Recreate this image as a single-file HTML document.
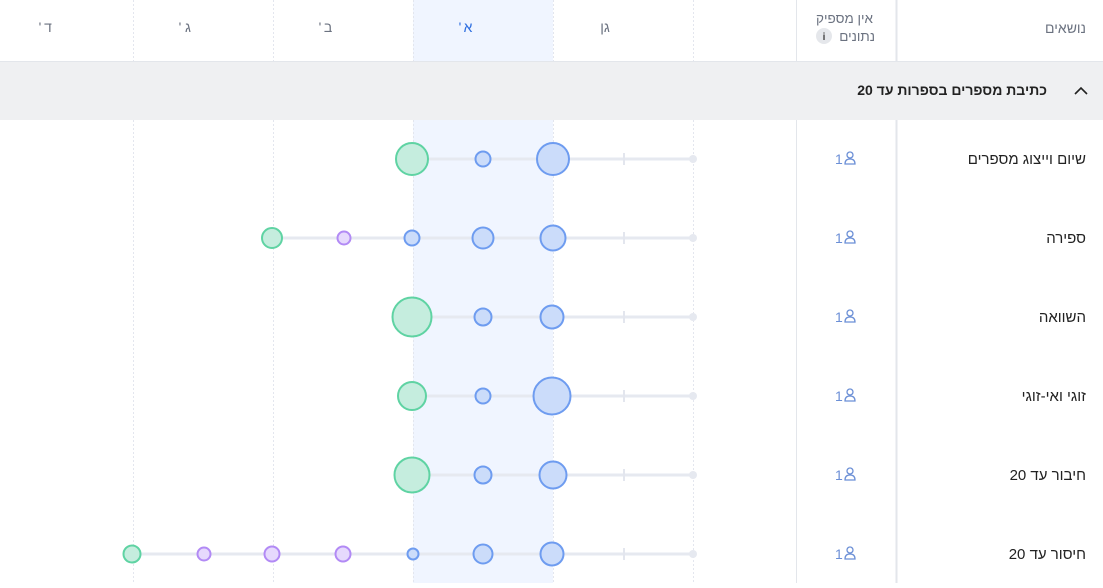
<!DOCTYPE html>
<html><head><meta charset="utf-8"><style>
body{margin:0;width:1103px;height:583px;overflow:hidden;background:#fff;font-family:"Liberation Sans","Noto Sans CJK SC",sans-serif}
</style></head><body>
<svg width="1103" height="583" xmlns="http://www.w3.org/2000/svg" font-family="Liberation Sans, Noto Sans CJK SC, sans-serif">
<rect x="413" y="0" width="140" height="583" fill="#f0f5ff"/>
<g stroke="#e3e6ee" stroke-dasharray="2,2" stroke-width="1">
<line x1="133.5" y1="0" x2="133.5" y2="583"/><line x1="273.5" y1="0" x2="273.5" y2="583"/><line x1="413.5" y1="0" x2="413.5" y2="583"/><line x1="553.5" y1="0" x2="553.5" y2="583"/><line x1="693.5" y1="0" x2="693.5" y2="583"/>
</g>
<line x1="796.5" y1="0" x2="796.5" y2="583" stroke="#e3e6eb"/>
<line x1="896.5" y1="0" x2="896.5" y2="583" stroke="#e3e6eb" stroke-width="2"/>
<line x1="0" y1="61.5" x2="1103" y2="61.5" stroke="#e3e6eb"/>
<rect x="0" y="62" width="1103" height="58" fill="#eff0f2"/>
<g font-size="14" fill="#6b7280" text-anchor="middle">
<text x="48" y="32">ד</text><text x="40" y="32">'</text>
<text x="188" y="32">ג</text><text x="180" y="32">'</text>
<text x="328" y="32">ב</text><text x="320" y="32">'</text>
<text x="468" y="32" fill="#2f6fe0">א</text><text x="460" y="32" fill="#2f6fe0">'</text>
<text x="605" y="32">גן</text>
</g>
<text x="1086" y="33" font-size="14" fill="#6b7280" text-anchor="end">נושאים</text>
<text x="873" y="23" font-size="13.5" fill="#6b7280" text-anchor="end">אין מספיק</text>
<text x="875" y="41" font-size="13.5" fill="#6b7280" text-anchor="end">נתונים</text>
<circle cx="824" cy="36" r="8" fill="#e5e7eb"/><text x="824" y="40" font-size="10" fill="#444" text-anchor="middle" font-weight="bold">i</text>
<text x="1047" y="95" font-size="14" font-weight="bold" fill="#222" text-anchor="end">כתיבת מספרים בספרות עד 20</text>
<path d="M1075 94 L1081 88 L1087 94" fill="none" stroke="#222" stroke-width="1.6"/>
<g font-size="15" fill="#222" text-anchor="end">
<text x="1086" y="164">שיום וייצוג מספרים</text>
<text x="1086" y="243">ספירה</text>
<text x="1086" y="322">השוואה</text>
<text x="1086" y="401">זוגי ואי-זוגי</text>
<text x="1086" y="480">חיבור עד 20</text>
<text x="1086" y="559">חיסור עד 20</text>
</g>
<g font-size="14" fill="#6b8fd6">
<text x="835" y="164">1</text><text x="835" y="243">1</text><text x="835" y="322">1</text><text x="835" y="401">1</text><text x="835" y="480">1</text><text x="835" y="559">1</text>
</g>
<g fill="none" stroke="#6b8fd6" stroke-width="1.3">
<circle cx="850" cy="155" r="3"/><path d="M845 164 Q845 159 850 159 Q855 159 855 164 Z"/>
<circle cx="850" cy="234" r="3"/><path d="M845 243 Q845 238 850 238 Q855 238 855 243 Z"/>
<circle cx="850" cy="313" r="3"/><path d="M845 322 Q845 317 850 317 Q855 317 855 322 Z"/>
<circle cx="850" cy="392" r="3"/><path d="M845 401 Q845 396 850 396 Q855 396 855 401 Z"/>
<circle cx="850" cy="471" r="3"/><path d="M845 480 Q845 475 850 475 Q855 475 855 480 Z"/>
<circle cx="850" cy="550" r="3"/><path d="M845 559 Q845 554 850 554 Q855 554 855 559 Z"/>
</g>
<g stroke="#e6e9f0" stroke-width="3">
<line x1="412" y1="159" x2="693" y2="159"/><line x1="272" y1="238" x2="693" y2="238"/><line x1="412" y1="317" x2="693" y2="317"/><line x1="412" y1="396" x2="693" y2="396"/><line x1="412" y1="475" x2="693" y2="475"/><line x1="132" y1="554" x2="693" y2="554"/>
</g>
<g stroke="#e3e6ee" stroke-width="2">
<line x1="624" y1="153" x2="624" y2="165"/><line x1="624" y1="232" x2="624" y2="244"/><line x1="624" y1="311" x2="624" y2="323"/><line x1="624" y1="390" x2="624" y2="402"/><line x1="624" y1="469" x2="624" y2="481"/><line x1="624" y1="548" x2="624" y2="560"/>
</g>
<g fill="#e6e9f0"><circle cx="693" cy="159" r="4"/><circle cx="693" cy="238" r="4"/><circle cx="693" cy="317" r="4"/><circle cx="693" cy="396" r="4"/><circle cx="693" cy="475" r="4"/><circle cx="693" cy="554" r="4"/></g>
<g stroke-width="2">
<g fill="#c5edde" stroke="#5fd3a3">
<circle cx="412" cy="159" r="16"/><circle cx="272" cy="238" r="10"/><circle cx="412" cy="317" r="19.5"/><circle cx="412" cy="396" r="14"/><circle cx="412" cy="475" r="17.5"/><circle cx="132" cy="554" r="8.5"/>
</g>
<g fill="#e6d9fd" stroke="#b28af5">
<circle cx="344" cy="238" r="6.5"/><circle cx="204" cy="554" r="6.5"/><circle cx="272" cy="554" r="7.5"/><circle cx="343" cy="554" r="7.5"/>
</g>
<g fill="#cbdcfa" stroke="#6e9cf0">
<circle cx="483" cy="159" r="7.5"/><circle cx="553" cy="159" r="16"/>
<circle cx="412" cy="238" r="7.5"/><circle cx="483" cy="238" r="10.5"/><circle cx="553" cy="238" r="12.5"/>
<circle cx="483" cy="317" r="8.5"/><circle cx="552" cy="317" r="11.5"/>
<circle cx="483" cy="396" r="7.5"/><circle cx="552" cy="396" r="18.5"/>
<circle cx="483" cy="475" r="8.5"/><circle cx="553" cy="475" r="13.5"/>
<circle cx="413" cy="554" r="5.5"/><circle cx="483" cy="554" r="9.5"/><circle cx="552" cy="554" r="11.5"/>
</g>
</g>
</svg>
</body></html>
